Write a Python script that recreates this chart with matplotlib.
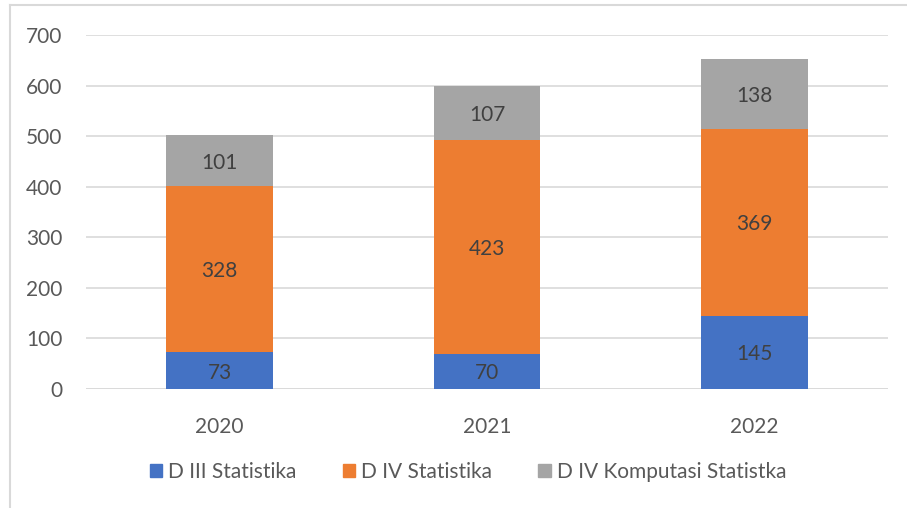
import matplotlib
matplotlib.use("Agg")
import matplotlib.pyplot as plt
from matplotlib.lines import Line2D
import numpy as np

years = ["2020", "2021", "2022"]
d3_stat = [73, 70, 145]
d4_stat = [328, 423, 369]
d4_komp = [101, 107, 138]
series_names = ["D III Statistika", "D IV Statistika", "D IV Komputasi Statistka"]
colors = ["#4472C4", "#ED7D31", "#A5A5A5"]
yticks = [0, 100, 200, 300, 400, 500, 600, 700]

plt.rcParams['font.family'] = ['Lato', 'DejaVu Sans']
txt = "#595959"

fig = plt.figure(figsize=(9.07, 5.08), dpi=100)
ax = fig.add_axes([86/907, 1-389/508, (888-86)/907, (389-35)/508])

x = np.arange(len(years))
w = 0.4
bottom = np.zeros(len(years))
for vals, name, c in zip([d3_stat, d4_stat, d4_komp], series_names, colors):
    ax.bar(x, vals, w, bottom=bottom, color=c, label=name, zorder=3)
    for xi, b, v in zip(x, bottom, vals):
        ax.text(xi, b + v/2 - 4, str(v), ha='center', va='center', fontsize=15, color="#404040", zorder=4)
    bottom += np.array(vals)

ax.set_xlim(-0.5, 2.5)
ax.set_ylim(0, 700)
ax.set_yticks(yticks)
ax.set_xticks(x)
ax.set_xticklabels(years)
ax.tick_params(axis='both', length=0, labelsize=15, colors=txt)
ax.tick_params(axis='y', pad=17)
ax.tick_params(axis='x', pad=20)
ax.grid(axis='y', color="#D9D9D9", linewidth=1.2, zorder=0)
for s in ax.spines.values():
    s.set_visible(False)
ax.axhline(0, color="#D9D9D9", linewidth=1.2, zorder=2)

handles = [plt.Rectangle((0, 0), 1, 1, color=c) for c in colors]
fig.legend(handles, series_names, loc='center', bbox_to_anchor=(468/907, 1-472/508),
           ncol=3, frameon=False, fontsize=15, handlelength=0.6, handleheight=0.6,
           handletextpad=0.3, columnspacing=2.2, labelcolor=txt)

fig.add_artist(Line2D([10/907, 10/907], [0, 1-5/508], transform=fig.transFigure, color="#D9D9D9", linewidth=1.5))
fig.add_artist(Line2D([10/907, 1], [1-5/508, 1-5/508], transform=fig.transFigure, color="#D9D9D9", linewidth=1.5))

fig.savefig("out.png", dpi=100)
